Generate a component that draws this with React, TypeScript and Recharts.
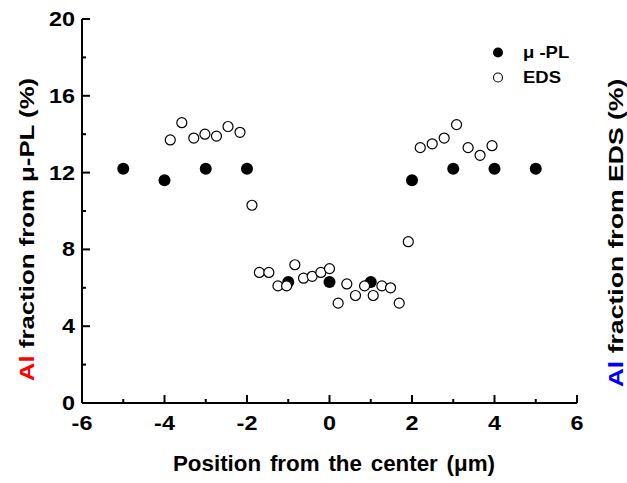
import React from 'react';
import { ScatterChart, Scatter, XAxis, YAxis, Legend } from 'recharts';

const plPositions = [-5, -4, -3, -2, -1, 0, 1, 2, 3, 4, 5];
const plValues = [12.2, 11.6, 12.2, 12.2, 6.3, 6.3, 6.3, 11.6, 12.2, 12.2, 12.2];

const edsPositions = [
  -3.86, -3.58, -3.29, -3.02, -2.74, -2.46, -2.17, -1.88,
  -1.7, -1.47, -1.25, -1.04, -0.84, -0.63, -0.42, -0.21, 0.0, 0.21, 0.42, 0.63, 0.85, 1.06, 1.27, 1.48, 1.69, 1.91,
  2.2, 2.49, 2.78, 3.08, 3.36, 3.65, 3.94,
];
const edsValues = [
  13.7, 14.6, 13.8, 14.0, 13.9, 14.4, 14.1, 10.3,
  6.8, 6.8, 6.1, 6.1, 7.2, 6.5, 6.6, 6.8, 7.0, 5.2, 6.2, 5.6, 6.1, 5.6, 6.1, 6.0, 5.2, 8.4,
  13.3, 13.5, 13.8, 14.5, 13.3, 12.9, 13.4,
];

const xTicks = [-6, -5, -4, -3, -2, -1, 0, 1, 2, 3, 4, 5, 6];
const yTicks = [0, 2, 4, 6, 8, 10, 12, 14, 16, 18, 20];
const xMajorTicks = [-6, -4, -2, 0, 2, 4, 6];
const yMajorTicks = [0, 4, 8, 12, 16, 20];

const plLabel = 'μ -PL';
const edsLabel = 'EDS';
const xTitle = 'Position from the center (μm)';
const yTitleLeftRest = ' fraction from μ-PL (%)';
const yTitleRightRest = ' fraction from EDS (%)';
const alText = 'Al';

const plData = plPositions.map((x, i) => ({ x, y: plValues[i] }));
const edsData = edsPositions.map((x, i) => ({ x, y: edsValues[i] }));

const FONT = '"Liberation Sans", Arial, Helvetica, sans-serif';
const MAJOR = 8;
const MINOR = 4;
const TICK_FS = 19.5;
const TICK_STRETCH = 1.2;

const BottomTick = (props: any) => {
  const { x, y, payload } = props;
  const v = payload.value;
  const major = xMajorTicks.includes(v);
  return (
    <g>
      <line x1={x} x2={x} y1={y} y2={y - (major ? MAJOR : MINOR)} stroke="#000" strokeWidth={2} />
      {major && (
        <text
          transform={`translate(${x} ${y + 27}) scale(${TICK_STRETCH} 1)`}
          x={0}
          y={0}
          textAnchor="middle"
          fontFamily={FONT}
          fontWeight="bold"
          fontSize={TICK_FS}
          fill="#000"
        >
          {v}
        </text>
      )}
    </g>
  );
};

const TopTick = (props: any) => {
  const { x, y, payload } = props;
  const major = xMajorTicks.includes(payload.value);
  return <line x1={x} x2={x} y1={y} y2={y + (major ? MAJOR : MINOR)} stroke="#000" strokeWidth={2} />;
};

const LeftTick = (props: any) => {
  const { x, y, payload } = props;
  const v = payload.value;
  const major = yMajorTicks.includes(v);
  return (
    <g>
      <line x1={x} x2={x + (major ? MAJOR : MINOR)} y1={y} y2={y} stroke="#000" strokeWidth={2} />
      {major && (
        <text
          transform={`translate(${x - 7} ${y + 7}) scale(${TICK_STRETCH} 1)`}
          x={0}
          y={0}
          textAnchor="end"
          fontFamily={FONT}
          fontWeight="bold"
          fontSize={TICK_FS}
          fill="#000"
        >
          {v}
        </text>
      )}
    </g>
  );
};

const RightTick = (props: any) => {
  const { x, y, payload } = props;
  const major = yMajorTicks.includes(payload.value);
  return <line x1={x} x2={x - (major ? MAJOR : MINOR)} y1={y} y2={y} stroke="#000" strokeWidth={2} />;
};

const XTitle = () => (
  <text
    transform="translate(334 471) scale(1.04 1)"
    x={0}
    y={0}
    textAnchor="middle"
    fontFamily={FONT}
    fontWeight="bold"
    fontSize={21.5}
    fill="#000"
    style={{ wordSpacing: '2.5px' }}
  >
    {xTitle}
  </text>
);

const YTitles = () => (
  <g>
    <text
      transform="translate(34 229.5) rotate(-90) scale(1.29 1)"
      x={0}
      y={0}
      textAnchor="middle"
      fontFamily={FONT}
      fontWeight="bold"
      fontSize={20}
    >
      <tspan fill="#ff0000">{alText}</tspan>
      <tspan fill="#000">{yTitleLeftRest}</tspan>
    </text>
    <text
      transform="translate(623 233) rotate(-90) scale(1.33 1)"
      x={0}
      y={0}
      textAnchor="middle"
      fontFamily={FONT}
      fontWeight="bold"
      fontSize={20}
    >
      <tspan fill="#0000ff">{alText}</tspan>
      <tspan fill="#000">{yTitleRightRest}</tspan>
    </text>
  </g>
);

const FilledDot = (p: any) => <circle cx={p.cx} cy={p.cy} r={6} fill="#000" />;
const OpenDot = (p: any) => <circle cx={p.cx} cy={p.cy} r={5} fill="#fff" stroke="#000" strokeWidth={1.2} />;

const LegendBox = () => {
  const rows = [
    { label: plLabel, filled: true },
    { label: edsLabel, filled: false },
  ];
  return (
    <div style={{ fontFamily: FONT, fontWeight: 'bold', fontSize: 16.5, color: '#000' }}>
      {rows.map((r) => (
        <div key={r.label} style={{ display: 'flex', alignItems: 'center', height: 25 }}>
          <svg width={24} height={25} style={{ display: 'block' }}>
            {r.filled ? (
              <circle cx={12} cy={12.5} r={5} fill="#000" />
            ) : (
              <circle cx={12} cy={12.5} r={4.5} fill="#fff" stroke="#000" strokeWidth={1.1} />
            )}
          </svg>
          <span
            style={{
              marginLeft: 13,
              whiteSpace: 'pre',
              display: 'inline-block',
              transform: 'scaleX(1.12)',
              transformOrigin: '0 50%',
            }}
          >
            {r.label}
          </span>
        </div>
      ))}
    </div>
  );
};

export default function App() {
  return (
    <div style={{ position: 'absolute', left: 0, top: 0, width: 627, height: 483, background: '#fff' }}>
      <ScatterChart width={627} height={483} margin={{ top: 19, right: 50, bottom: 0, left: 0 }}>
        <XAxis
          xAxisId="b"
          dataKey="x"
          type="number"
          domain={[-6, 6]}
          ticks={xTicks}
          interval={0}
          orientation="bottom"
          height={80}
          tickSize={0}
          tickMargin={0}
          tickLine={false}
          axisLine={{ stroke: '#000', strokeWidth: 2 }}
          tick={<BottomTick />}
          allowDataOverflow
          label={<XTitle />}
        />
        <XAxis
          xAxisId="t"
          dataKey="x"
          type="number"
          domain={[-6, 6]}
          ticks={xTicks}
          interval={0}
          orientation="top"
          height={0}
          tickSize={0}
          tickMargin={0}
          tickLine={false}
          axisLine={{ stroke: '#000', strokeWidth: 2 }}
          tick={<TopTick />}
          allowDataOverflow
        />
        <YAxis
          yAxisId="l"
          dataKey="y"
          type="number"
          domain={[0, 20]}
          ticks={yTicks}
          interval={0}
          orientation="left"
          width={82}
          tickSize={0}
          tickMargin={0}
          tickLine={false}
          axisLine={{ stroke: '#000', strokeWidth: 2 }}
          tick={<LeftTick />}
          allowDataOverflow
          label={<YTitles />}
        />
        <YAxis
          yAxisId="r"
          dataKey="y"
          type="number"
          domain={[0, 20]}
          ticks={yTicks}
          interval={0}
          orientation="right"
          width={0}
          tickSize={0}
          tickMargin={0}
          tickLine={false}
          axisLine={{ stroke: '#000', strokeWidth: 2 }}
          tick={<RightTick />}
          allowDataOverflow
        />
        <Legend
          layout="vertical"
          align="center"
          verticalAlign="middle"
          wrapperStyle={{ position: 'absolute', left: 486, top: 39.5, width: 120 }}
          content={() => <LegendBox />}
        />
        <Scatter
          name={plLabel}
          data={plData}
          xAxisId="b"
          yAxisId="l"
          shape={<FilledDot />}
          isAnimationActive={false}
        />
        <Scatter
          name={edsLabel}
          data={edsData}
          xAxisId="b"
          yAxisId="l"
          shape={<OpenDot />}
          isAnimationActive={false}
        />
      </ScatterChart>
    </div>
  );
}
